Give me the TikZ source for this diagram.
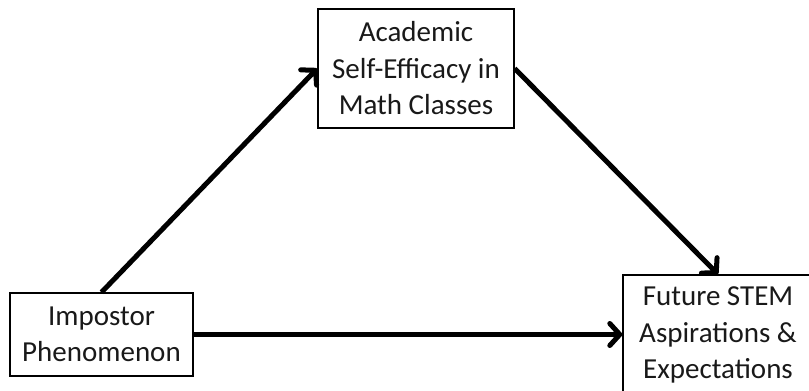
\documentclass[tikz,border=0pt]{standalone}
\usepackage{fontspec}
\setmainfont{Carlito}
\usetikzlibrary{arrows.meta}
\begin{document}
\begin{tikzpicture}[x=1pt,y=1pt,
  box/.style={draw=black,line width=1.4pt,rectangle,align=center,inner sep=0pt,
    font=\fontsize{29}{36.5}\selectfont,text=black!90},
  conn/.style={line width=5pt,-{Straight Barb[length=10pt,width=22pt,line width=5pt,round]}}]
\useasboundingbox (0,0) rectangle (809,391);
\node[box,minimum width=196pt,minimum height=119pt] (T) at (416,322.5) {Academic\\Self-Efficacy in\\Math Classes};
\node[box,minimum width=183pt,minimum height=83pt] (L) at (101.5,56.5) {Impostor\\Phenomenon};
\node[box,minimum width=190pt,minimum height=120pt] (R) at (718,56) {Future STEM\\Aspirations \&\\Expectations};
\draw[conn] (L.north) -- (T.west);
\draw[conn] (T.east) -- (R.north);
\draw[conn] (L.east) -- (R.west |- L.east);
\end{tikzpicture}
\end{document}
